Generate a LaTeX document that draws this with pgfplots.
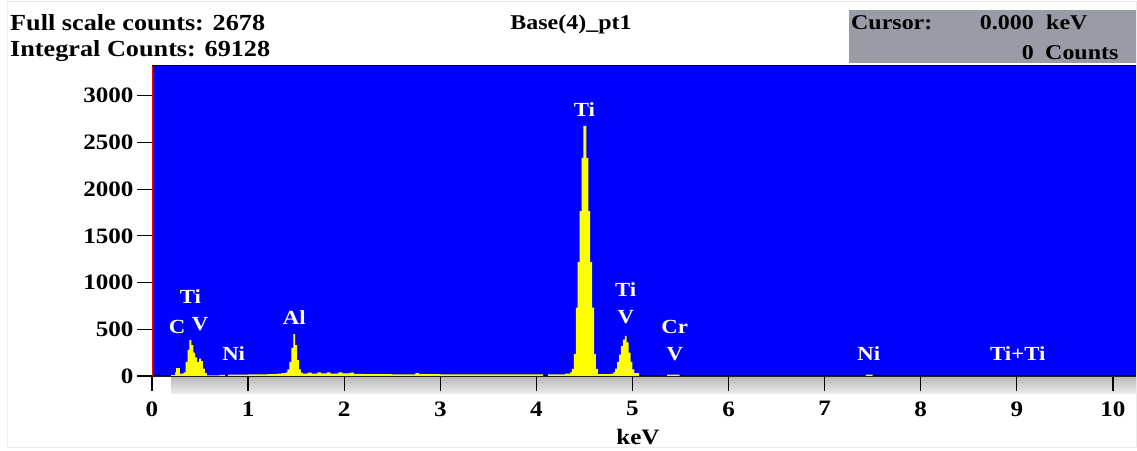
\documentclass[border=0pt]{standalone}
\usepackage{fontspec}
\setmainfont{Liberation Serif}[FakeStretch=1.14]
\usepackage{pgfplots}
\pgfplotsset{compat=1.18}
\definecolor{cursorgray}{RGB}{152,156,166}
\definecolor{specyellow}{RGB}{255,255,0}
\definecolor{specblue}{RGB}{0,0,255}
\begin{document}
\begin{tikzpicture}[x=1pt,y=1pt]
\path[use as bounding box] (0,0) rectangle (1137,450);
\fill[white] (0,0) rectangle (1137,450);
\draw[gray!15,line width=1pt] (7,3) rectangle (1136,448);
% header texts
\node[anchor=base west,inner sep=0pt,font=\fontsize{23}{26}\selectfont\bfseries] at (10,419) {Full scale counts: 2678};
\node[anchor=base west,inner sep=0pt,font=\fontsize{23}{26}\selectfont\bfseries] at (10,393) {Integral Counts: 69128};
\node[anchor=base,inner sep=0pt,font=\fontsize{21}{24}\selectfont\bfseries] at (571,420) {Base(4)\_pt1};
\fill[cursorgray] (849,386.5) rectangle (1136,440);
\node[anchor=base west,inner sep=0pt,font=\fontsize{21}{24}\selectfont\bfseries] at (851,420) {Cursor:};
\node[anchor=base east,inner sep=0pt,font=\fontsize{21}{24}\selectfont\bfseries] at (1034,420) {0.000};
\node[anchor=base west,inner sep=0pt,font=\fontsize{21}{24}\selectfont\bfseries] at (1046,420) {keV};
\node[anchor=base east,inner sep=0pt,font=\fontsize{21}{24}\selectfont\bfseries] at (1034,390) {0};
\node[anchor=base west,inner sep=0pt,font=\fontsize{21}{24}\selectfont\bfseries] at (1045,390) {Counts};
% gray strip below the x axis
\shade[top color=gray!55,bottom color=gray!15] (171,57) rectangle (1136,73);
\begin{axis}[
  at={(152pt,74pt)}, anchor=south west,
  scale only axis, width=984pt, height=310pt,
  xmin=0, xmax=10.24, ymin=0, ymax=3318,
  axis x line=bottom, axis y line=left,
  x axis line style={-, black, line width=1.2pt},
  y axis line style={-, red, line width=0.8pt},
  axis background/.style={fill=specblue},
  xtick={0,1,...,10}, ytick={0,500,...,3000},
  tick align=outside, major tick length=15pt,
  tick style={black, line width=1.2pt},
  minor tick num=0,
  /pgf/number format/1000 sep={},
  /pgf/number format/assume math mode=true,
  ticklabel style={font=\fontsize{22}{24}\selectfont\bfseries},
  xticklabel style={yshift=-7pt},
  xlabel={keV}, xlabel style={font=\fontsize{22}{24}\selectfont\bfseries, yshift=-6pt, xshift=-6pt},
  clip=true,
]
\addplot[fill=specyellow, draw=none, const plot mark left] coordinates {
(0.00,0) (0.20,10) (0.24,40) (0.25,85) (0.29,25) (0.33,40) (0.35,150) (0.37,280)
(0.39,385) (0.41,330) (0.43,250) (0.45,200) (0.47,150) (0.49,185) (0.51,160)
(0.53,80) (0.55,30) (0.57,6) (0.70,12) (0.76,0) (0.79,15) (1.00,18) (1.20,20)
(1.30,25) (1.35,30) (1.39,40) (1.41,70) (1.43,150) (1.45,300) (1.47,448)
(1.49,330) (1.51,170) (1.53,70) (1.55,35) (1.57,25) (1.62,35) (1.66,25)
(1.72,40) (1.76,28) (1.82,38) (1.86,25) (1.94,40) (1.98,28) (2.06,35) (2.10,22)
(2.20,20) (2.50,18) (2.74,30) (2.78,20) (3.00,18) (3.50,18) (4.07,0) (4.12,18)
(4.30,25) (4.35,40) (4.37,75) (4.39,235) (4.41,733) (4.43,1220) (4.45,1764)
(4.47,2334) (4.49,2678) (4.52,2334) (4.54,1764) (4.56,1220) (4.58,733)
(4.60,235) (4.62,75) (4.64,20) (4.78,25) (4.80,40) (4.82,80) (4.84,150)
(4.86,230) (4.88,320) (4.90,390) (4.92,430) (4.94,360) (4.96,250) (4.98,150)
(5.00,70) (5.02,30) (5.07,0) (5.36,16) (5.49,0) (7.43,16) (7.50,0) (10.24,0)
} \closedcycle;
\begin{scope}[every node/.style={text=white, font=\fontsize{20}{22}\selectfont\bfseries, inner sep=0pt}]
\node at (axis cs:0.26,523) {C};
\node at (axis cs:0.50,555) {V};
\node at (axis cs:0.40,854) {Ti};
\node at (axis cs:0.85,235) {Ni};
\node at (axis cs:1.48,630) {Al};
\node at (axis cs:4.50,2850) {Ti};
\node at (axis cs:4.93,929) {Ti};
\node at (axis cs:4.93,630) {V};
\node at (axis cs:5.44,523) {Cr};
\node at (axis cs:5.44,235) {V};
\node at (axis cs:7.46,235) {Ni};
\node at (axis cs:9.01,235) {Ti+Ti};
\end{scope}
\end{axis}
\draw[black,line width=0.8pt] (152,385) -- (1136,385);
\end{tikzpicture}
\end{document}
